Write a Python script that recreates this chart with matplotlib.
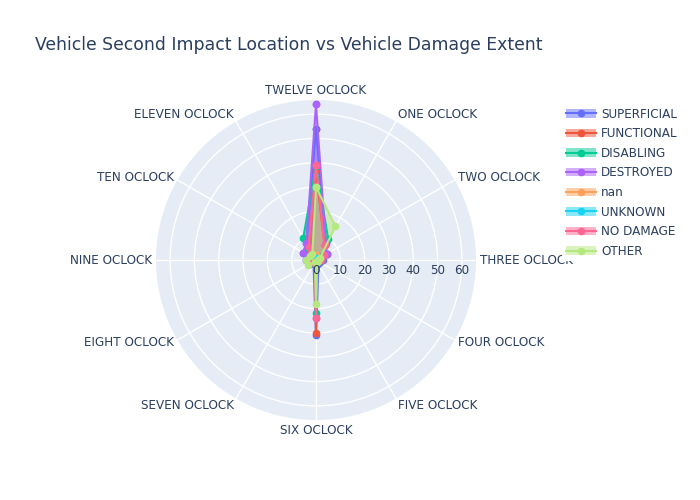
import numpy as np
import matplotlib
matplotlib.use("Agg")
import matplotlib.pyplot as plt
from matplotlib.lines import Line2D
from matplotlib.patches import Patch

categories = ["TWELVE OCLOCK", "ONE OCLOCK", "TWO OCLOCK", "THREE OCLOCK", "FOUR OCLOCK",
              "FIVE OCLOCK", "SIX OCLOCK", "SEVEN OCLOCK", "EIGHT OCLOCK", "NINE OCLOCK",
              "TEN OCLOCK", "ELEVEN OCLOCK"]

superficial = [54, 8, 5, 3, 2, 2, 31, 2, 3, 4, 6, 8]
functional  = [37, 7, 5, 2, 1, 1, 30, 1, 2, 3, 3, 6]
disabling   = [38.5, 10, 3, 2, 1, 1, 22, 1, 2, 3, 4, 10.5]
destroyed   = [64, 8, 5, 2, 1, 1, 24, 1, 2, 4, 6, 8]
nan_vals    = [2, 0, 0, 0, 0, 0, 1, 0, 0, 0, 0, 0]
unknown     = [1, 0, 0, 0, 0, 0, 1, 0, 0, 0, 0, 0]
no_damage   = [39, 7, 4, 2, 1, 1, 24, 1, 2, 3, 3, 6]
other       = [30, 16, 2, 1, 1, 1, 18, 1, 4, 4, 3, 3]

series_names = ["SUPERFICIAL", "FUNCTIONAL", "DISABLING", "DESTROYED", "nan",
                "UNKNOWN", "NO DAMAGE", "OTHER"]
series_values = [superficial, functional, disabling, destroyed, nan_vals,
                 unknown, no_damage, other]
colors = ["#636EFA", "#EF553B", "#00CC96", "#AB63FA", "#FFA15A",
          "#19D3F3", "#FF6692", "#B6E880"]

radial_ticks = [0, 10, 20, 30, 40, 50, 60]
r_max = 65.8

TXT = "#2a3f5f"
plt.rcParams['font.family'] = ['DejaVu Sans']

fig = plt.figure(figsize=(7, 5), dpi=100)
ax = fig.add_axes([(316 - 160) / 700, (240 - 160) / 500, 320 / 700, 320 / 500],
                  projection='polar')
ax.set_theta_zero_location('N')
ax.set_theta_direction(-1)
ax.set_facecolor('#E5ECF6')
ax.spines['polar'].set_visible(False)

n = len(categories)
theta = np.arange(n) * 2 * np.pi / n

ax.set_xticks(theta)
ax.set_xticklabels([])
ax.set_yticks(radial_ticks[1:])
ax.set_yticklabels([])
ax.set_ylim(0, r_max)
ax.grid(True, color='white', linewidth=1)
ax.tick_params(length=0)

for name, vals, c in zip(series_names, series_values, colors):
    t = np.append(theta, theta[0])
    v = np.append(vals, vals[0])
    ax.fill(t, v, color=c, alpha=0.5, linewidth=0, zorder=3)
    ax.plot(t, v, color=c, linewidth=1.5, marker='o', markersize=4.5,
            clip_on=False, zorder=4)

# angular labels
for th, lab in zip(theta, categories):
    s, c = np.sin(th), np.cos(th)
    if s > 0.01:
        ha = 'left'
    elif s < -0.01:
        ha = 'right'
    else:
        ha = 'center'
    dx = 4 * s
    dy = 4 * c + 6 * c ** 3
    ax.annotate(lab, xy=(th, r_max), xytext=(dx, dy), textcoords='offset pixels',
                ha=ha, va='center', fontsize=8.64, color=TXT, annotation_clip=False)

# radial tick labels
for v in radial_ticks:
    ax.annotate(str(v), xy=(np.pi / 2, v), xytext=(0, -10), textcoords='offset pixels',
                ha='center', va='center', fontsize=8.64, color=TXT, annotation_clip=False,
                zorder=6)

fig.text(35 / 700, 1 - 45 / 500, "Vehicle Second Impact Location vs Vehicle Damage Extent",
         fontsize=12.4, color=TXT, va='center', ha='left')

handles = [(Patch(facecolor=c, alpha=0.5, edgecolor='none'),
            Line2D([], [], color=c, linewidth=1.5, marker='o', markersize=4.5))
           for c in colors]
leg = fig.legend(handles, series_names, loc='upper left',
                 bbox_to_anchor=(562 / 700, 1 - 104 / 500),
                 frameon=True, facecolor='white', edgecolor='none', framealpha=1,
                 fontsize=8.64, labelspacing=0.55, handlelength=2.5,
                 handletextpad=0.45, borderpad=0.3, borderaxespad=0)
for t in leg.get_texts():
    t.set_color(TXT)

fig.savefig("out.png", dpi=100, facecolor='white')
